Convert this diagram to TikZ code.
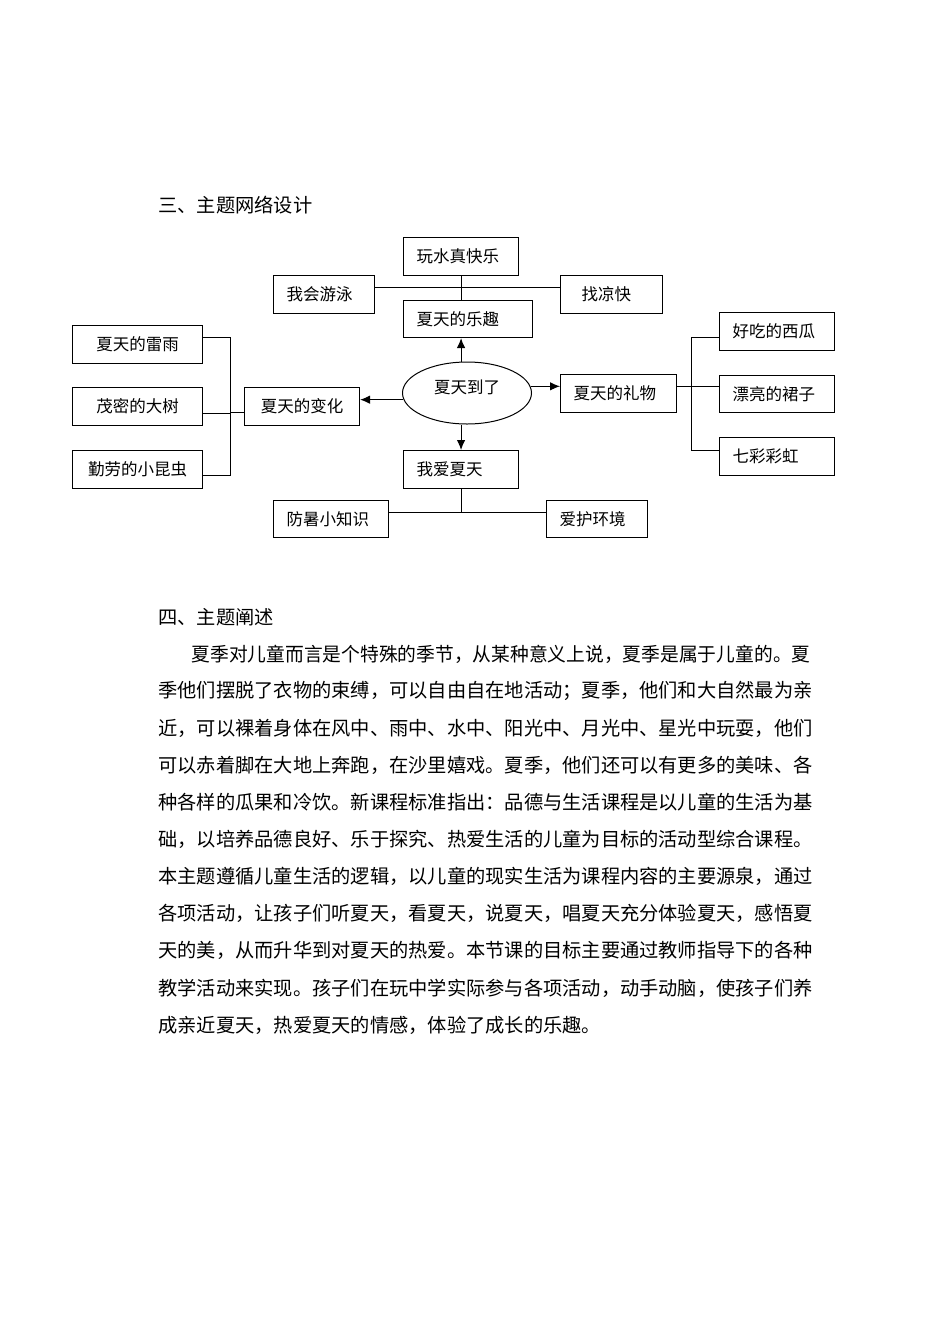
\documentclass[tikz,border=0pt]{standalone}
\usepackage{fontspec}
\setmainfont{Noto Sans CJK SC}
\usepackage{graphicx}
\usepackage{tikz}
\usetikzlibrary{shapes.geometric,arrows.meta}

\begin{document}
\begin{tikzpicture}[x=1pt, y=-1pt, line width=1pt, > = {Latex[length=10pt,width=8.5pt]},
  topic/.style={draw, line width=1.1pt, anchor=north west, minimum height=37.5pt,
    inner xsep=13pt, inner ysep=0pt, text width=#1, align=left,
    font=\fontsize{16.5}{18}\selectfont},
  para/.style={anchor=west, inner sep=0pt, font=\fontsize{19.24}{22}\selectfont}]

  \useasboundingbox (0,0) rectangle (950,1344);

  \node[para] (h3) at (158,205) {三、主题网络设计};

  % centre and the four branches
  \node[ellipse, draw, minimum width=129pt, minimum height=62pt, inner sep=0pt,
    text height=12pt, text depth=12pt, font=\fontsize{16.5}{18}\selectfont] (summer) at (467,393) {夏天到了};

  \node[topic=89pt] (water) at (403,237) {玩水真快乐};
  \node[topic=75pt] (swim) at (273,275) {我会游泳};
  \node[topic=60pt, inner xsep=21pt] (cool) at (560,275) {找凉快};
  \node[topic=103pt] (joy) at (403,299.5) {夏天的乐趣};

  \node[topic=89pt] (love) at (403,450) {我爱夏天};
  \node[topic=89pt] (heat) at (273,499.5) {防暑小知识};
  \node[topic=75pt] (green) at (546,499.5) {爱护环境};

  \node[topic=90pt] (gift) at (560,374) {夏天的礼物};
  \node[topic=89pt] (melon) at (719,312) {好吃的西瓜};
  \node[topic=89pt] (skirt) at (719,374.5) {漂亮的裙子};
  \node[topic=89pt] (rainbow) at (719,437) {七彩彩虹};

  \node[topic=83pt, inner xsep=16pt, align=center] (change) at (244,387) {夏天的变化};
  \node[topic=104pt, align=center] (storm) at (72,325) {夏天的雷雨};
  \node[topic=104pt, align=center] (tree) at (72,387) {茂密的大树};
  \node[topic=104pt, align=center] (insect) at (72,450) {勤劳的小昆虫};

  % arrows out of the centre
  \draw[->] (summer.north -| water.south) -- (joy.south -| water.south);
  \draw[->] (summer.south -| love.north) -- (love.north);
  \draw[->] (summer.6) -- (summer.6 -| gift.west);
  \draw[->] (summer.186) -- (summer.186 -| change.east);

  % top
  \draw (water.south) -- (water.south |- joy.north);
  \draw ([yshift=6.5pt]swim.east) -- ([yshift=6.5pt]cool.west);

  % bottom
  \coordinate (hj) at ([yshift=6pt]heat.east);
  \draw (hj) -- (hj -| green.west);
  \draw (love.south) -- (love.south |- hj);

  % right
  \coordinate (rt) at (691,386.5);
  \coordinate (gj) at ([yshift=6.5pt]gift.east);
  \coordinate (mj) at ([yshift=-6.5pt]melon.west);
  \coordinate (rj) at ([yshift=5.5pt]rainbow.west);
  \draw (gj) -- (gj -| skirt.west);
  \draw (mj) -- (mj -| rt) -- (rj -| rt) -- (rj);

  % left
  \coordinate (lt) at (230.5,405);
  \coordinate (sj) at ([yshift=6.5pt]storm.east);
  \coordinate (tj) at ([yshift=-7pt]tree.east);
  \coordinate (ij) at ([yshift=-6pt]insect.east);
  \coordinate (cj) at ([yshift=-6pt]change.west);
  \draw (sj) -- (sj -| lt) -- (ij -| lt) -- (ij);
  \draw (tj) -- (tj -| lt);
  \draw (cj) -- (cj -| lt);

  % text below
  \node[para] (h4) at (158,617) {四、主题阐述};
  \node[para] (l1) at (191,654) {\scalebox{0.975}[1]{夏季对儿童而言是个特殊的季节，从某种意义上说，夏季是属于儿童的。夏}};
  \node[para] (l2) at (158,691.1) {季他们摆脱了衣物的束缚，可以自由自在地活动；夏季，他们和大自然最为亲};
  \node[para] (l3) at (158,728.2) {近，可以裸着身体在风中、雨中、水中、阳光中、月光中、星光中玩耍，他们};
  \node[para] (l4) at (158,765.3) {可以赤着脚在大地上奔跑，在沙里嬉戏。夏季，他们还可以有更多的美味、各};
  \node[para] (l5) at (158,802.4) {种各样的瓜果和冷饮。新课程标准指出：品德与生活课程是以儿童的生活为基};
  \node[para] (l6) at (158,839.5) {础，以培养品德良好、乐于探究、热爱生活的儿童为目标的活动型综合课程。};
  \node[para] (l7) at (158,876.6) {本主题遵循儿童生活的逻辑，以儿童的现实生活为课程内容的主要源泉，通过};
  \node[para] (l8) at (158,913.7) {各项活动，让孩子们听夏天，看夏天，说夏天，唱夏天充分体验夏天，感悟夏};
  \node[para] (l9) at (158,950.8) {天的美，从而升华到对夏天的热爱。本节课的目标主要通过教师指导下的各种};
  \node[para] (l10) at (158,987.9) {教学活动来实现。孩子们在玩中学实际参与各项活动，动手动脑，使孩子们养};
  \node[para] (l11) at (158,1025) {成亲近夏天，热爱夏天的情感，体验了成长的乐趣。};
\end{tikzpicture}
\end{document}
